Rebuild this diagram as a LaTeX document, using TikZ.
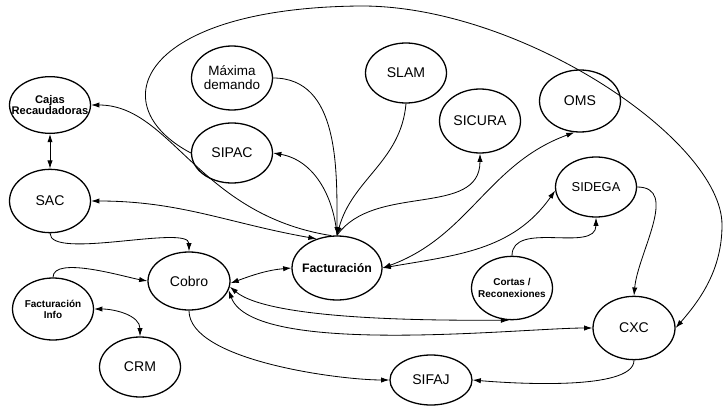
\documentclass[tikz,border=0pt]{standalone}
\usepackage{fontspec}
\setmainfont{Liberation Sans}
\usetikzlibrary{shapes.geometric,arrows.meta}

\begin{document}
\begin{tikzpicture}[x=0.3mm,y=0.3mm,
    sys/.style={draw, ellipse, line width=1.1pt, inner xsep=-10pt, inner ysep=0pt, minimum width=24.3mm, minimum height=18.6mm, align=center, font=\fontsize{12}{12.5}\selectfont},
    small/.style={font=\bfseries\fontsize{8.5}{9.5}\selectfont},
    link/.style={line width=0.7pt, -{Latex[length=7pt,width=4.5pt]}},
    both/.style={line width=0.7pt, {Latex[length=7pt,width=4.5pt]}-{Latex[length=7pt,width=4.5pt]}}]
\useasboundingbox (0,0) rectangle (725,406);
\node[sys, minimum height=17mm, font=\bfseries\fontsize{9.5}{10}\selectfont] (cajas) at (50,301) {Cajas\\Recaudadoras};
\node[sys, minimum height=19mm] (sac) at (50,205) {SAC};
\node[sys, minimum height=19.2mm, font=\fontsize{11.5}{12}\selectfont] (maxima) at (232,328) {Máxima\\demando};
\node[sys, minimum height=18mm] (sipac) at (232,253) {SIPAC};
\node[sys, minimum height=18mm] (slam) at (406,333) {SLAM};
\node[sys, minimum height=19.2mm] (sicura) at (480,285) {SICURA};
\node[sys] (oms) at (580,305) {OMS};
\node[sys, minimum height=18mm, font=\fontsize{11}{12}\selectfont] (sidega) at (596,219) {SIDEGA};
\node[sys, minimum width=27mm, minimum height=19.2mm, font=\bfseries\fontsize{10.5}{12}\selectfont] (fact) at (337,138) {Facturación};
\node[sys, minimum width=24.6mm, minimum height=17.4mm] (cobro) at (189,125) {Cobro};
\node[sys, small] (finfo) at (53,97) {Facturación\\Info};
\node[sys, minimum height=18mm] (crm) at (140,39) {CRM};
\node[sys, small, minimum height=19mm] (cortas) at (512,118) {Cortas /\\Reconexiones};
\node[sys, minimum width=24.6mm, minimum height=19mm] (cxc) at (634,78) {CXC};
\node[sys, minimum width=24.6mm, minimum height=15mm] (sifaj) at (431,26) {SIFAJ};
\coordinate (apex) at (360,400);
\coordinate (rim) at (722,181);
\draw[both] (cajas) -- (sac);
\draw[link] (fact.100) .. controls +(-133,21) and +(80,0) .. (cajas.east);
\draw[both] (sac.east) to[out=0,in=170] (fact.125);
\draw[link] (maxima.east) to[out=0,in=90] (fact.north);
\draw[link] (slam.south) to[out=-95,in=75] (fact.north);
\draw[link] (fact.north) to[out=95,in=-10] (sipac.east);
\draw[link] (fact.north) to[out=55,in=-90] (sicura.south);
\draw[both] (fact.east) to[out=20,in=200] (oms.260);
\draw[both] (fact.east) to[out=10,in=235] (sidega.185);
\draw[link] (sidega.east) to[out=0,in=85] (cxc.north);
\draw[link] (cortas.north) to[out=90,in=-90] (sidega.south);
\draw[both] (cobro.-3) to[out=20,in=185] (fact.west);
\draw[both] (cobro.-8) to[out=-40,in=180,looseness=0.5] (cortas.265);
\draw[both] (cobro.-13) to[out=-70,in=180,looseness=0.5] (cxc.west);
\draw[link] (cobro.south) to[out=-90,in=180,looseness=0.6] (sifaj.west);
\draw[link] (cxc.south) to[out=-90,in=-5,looseness=0.5] (sifaj.east);
\draw[link] (sac.south) to[out=-90,in=90,looseness=0.5] (cobro.north);
\draw[link] (finfo.north) to[out=90,in=170,looseness=0.6] (cobro.west);
\draw[both] (finfo.east) to[out=0,in=90] (crm.north);
\draw[link] (sipac.west) .. controls (100,301) and (140,398) .. (apex) .. controls (520,401) and (722,266) .. (rim) .. controls (722,136) and (700,106) .. (cxc.east);
\end{tikzpicture}
\end{document}
